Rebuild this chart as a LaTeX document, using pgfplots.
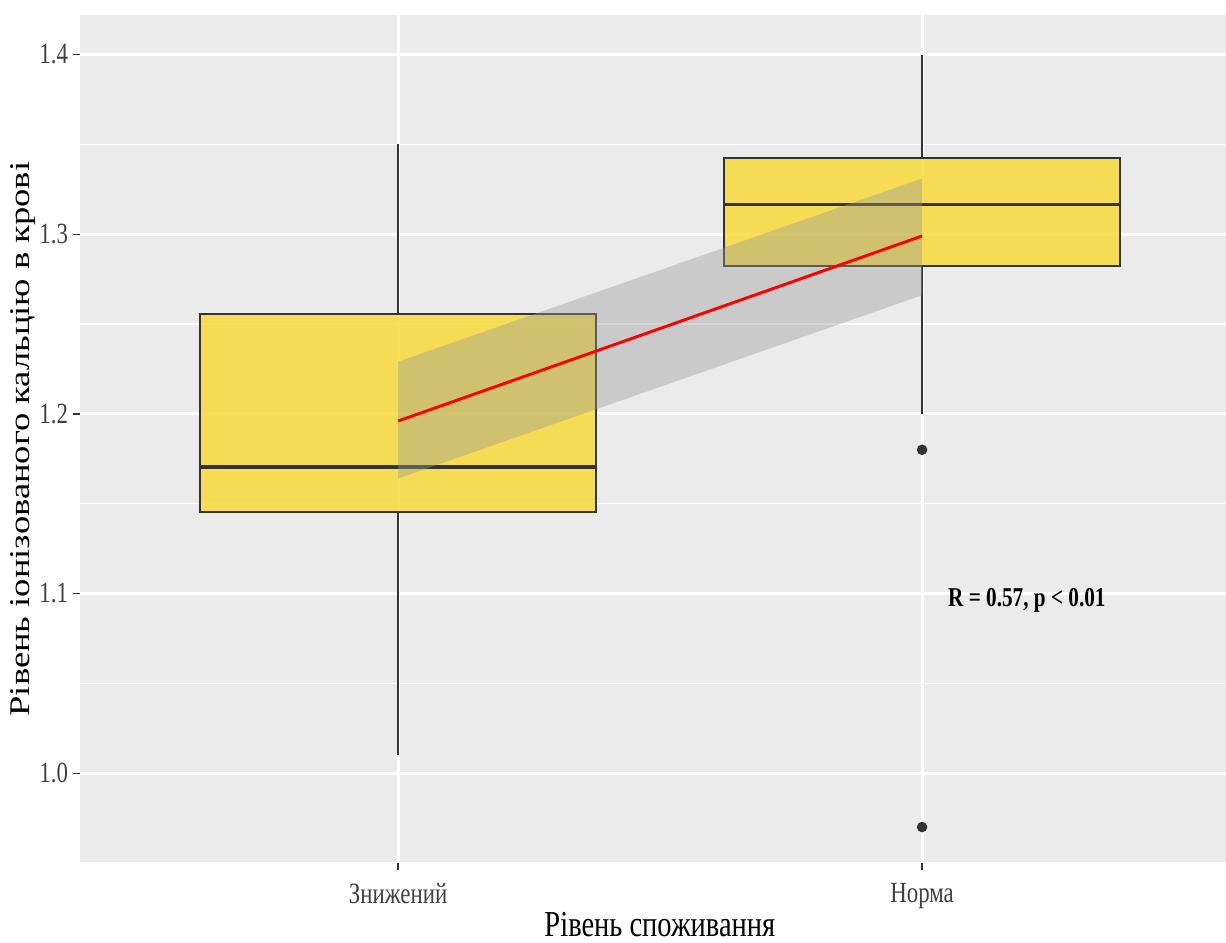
\documentclass[border=0pt]{standalone}
\usepackage{pgfplots}
\pgfplotsset{compat=1.18}
\usepgfplotslibrary{statistics}
\usepackage{fontspec}
\setmainfont{Liberation Serif}
\usepackage{graphicx}
\definecolor{panel}{HTML}{EBEBEB}
\definecolor{boxfill}{HTML}{F8DA3A}
\definecolor{boxline}{HTML}{333333}
\definecolor{ticktext}{HTML}{404040}
\definecolor{band}{HTML}{999999}
\newcommand{\hs}[1]{\scalebox{0.78}[1]{#1}}
\newcommand{\vs}[1]{\scalebox{1}[0.78]{#1}}
\begin{document}
\begin{tikzpicture}
\useasboundingbox (0,0) rectangle (459.75pt,353.25pt);
\begin{axis}[
  at={(30pt,29.625pt)}, anchor=south west,
  scale only axis, width=429.75pt, height=318pt,
  xmin=0.393, xmax=2.58, ymin=0.95, ymax=1.422,
  axis background/.style={fill=panel},
  axis line style={draw=none},
  xtick={1,2}, xticklabels={\hs{Знижений},\hs{Норма}},
  ytick={1.0,1.1,1.2,1.3,1.4},
  yticklabels={\hs{1.0},\hs{1.1},\hs{1.2},\hs{1.3},\hs{1.4}},
  minor ytick={0.95,1.05,1.15,1.25,1.35},
  xtick pos=bottom, ytick pos=left, tick align=outside,
  major tick length=2.75pt, minor tick length=0pt,
  tick style={color=boxline, line width=0.5pt},
  ymajorgrids, yminorgrids, xmajorgrids,
  major grid style={white, line width=1.07pt},
  minor grid style={white, line width=0.53pt},
  ticklabel style={font=\fontsize{11}{13}\selectfont, text=ticktext},
  yticklabel style={xshift=1.8pt},
  xticklabel style={yshift=-1.5pt},
  xlabel={\hs{Рівень споживання}},
  ylabel={\vs{Рівень іонізованого кальцію в крові}},
  label style={font=\fontsize{13.7}{16}\selectfont},
  xlabel style={at={(axis description cs:0.506,-0.073)}, anchor=center},
  ylabel style={at={(axis description cs:-0.0497,0.5)}, anchor=center},
  boxplot/draw direction=y,
  boxplot/every median/.style={line width=1.3pt},
]
\addplot[boxplot prepared={draw position=1, lower whisker=1.01, lower quartile=1.1455,
   median=1.1705, upper quartile=1.2557, upper whisker=1.35, box extend=0.755, whisker extend=0},
   draw=boxline, line width=0.7pt, fill=boxfill, fill opacity=0.85] coordinates {};
\addplot[boxplot prepared={draw position=2, lower whisker=1.20, lower quartile=1.2825,
   median=1.3164, upper quartile=1.3426, upper whisker=1.40, box extend=0.755, whisker extend=0},
   draw=boxline, line width=0.7pt, fill=boxfill, fill opacity=0.85,
   mark=*, mark size=1.6pt, mark options={fill=boxline, draw=boxline, fill opacity=1}]
   table[row sep=\\, y index=0] {1.18\\ 0.97\\};
\addplot[draw=none, fill=band, fill opacity=0.4] coordinates {(1,1.229) (2,1.331) (2,1.266) (1,1.164)} -- cycle;
\addplot[color=red, line width=1.1pt] coordinates {(1,1.196) (2,1.299)};
\node[font=\bfseries\fontsize{10.2}{12}\selectfont] at (axis cs:2.2,1.0964) {\hs{R = 0.57, p < 0.01}};
\end{axis}
\end{tikzpicture}
\end{document}
